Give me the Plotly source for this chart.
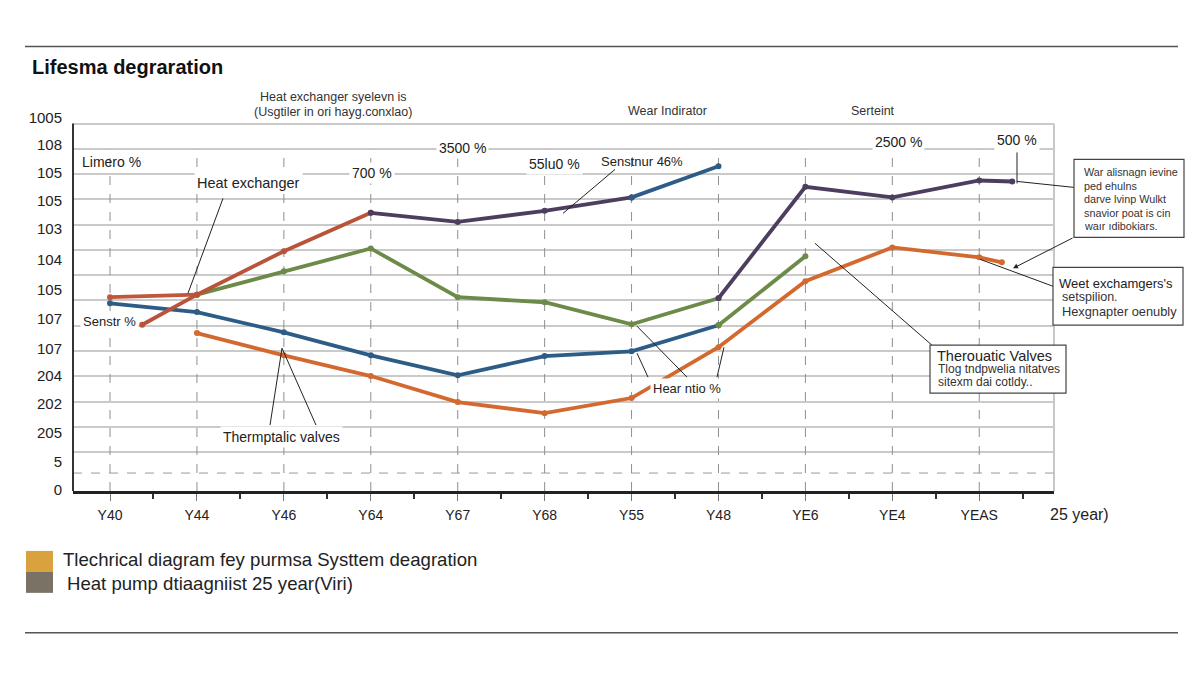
import plotly.graph_objects as go

# ---------------- data ----------------
categories = ["Y40", "Y44", "Y46", "Y64", "Y67", "Y68", "Y55", "Y48", "YE6", "YE4", "YEAS"]
cat_pos = list(range(len(categories)))

y_tick_vals = [14.24, 13.18, 12.07, 10.96, 9.82, 8.63, 7.44, 6.26, 5.11, 4.01, 2.90, 1.75, 0.61, -0.50]
y_tick_text = ["1005", "108", "105", "105", "103", "104", "105", "107", "107", "204", "202", "205", "5", "0"]

red_flat_x = [0, 1]
red_flat_y = [7.13, 7.23]
red_x = [0.37, 1, 2, 3]
red_y = [6.04, 7.23, 8.95, 10.47]
purple_a_x = [3, 4, 5, 6]
purple_a_y = [10.47, 10.11, 10.55, 11.08]
blue_tail_x = [6, 7]
blue_tail_y = [11.08, 12.31]
green_x = [1, 2, 3, 4, 5, 6, 7]
green_y = [7.23, 8.16, 9.06, 7.13, 6.93, 6.06, 7.09]
purple_b_x = [7, 8, 9, 10, 10.38]
purple_b_y = [7.09, 11.50, 11.08, 11.75, 11.71]
blue_x = [0, 1, 2, 3, 4, 5, 6, 7]
blue_y = [6.89, 6.54, 5.74, 4.83, 4.04, 4.80, 4.99, 6.02]
green_tail_x = [7, 8]
green_tail_y = [6.02, 8.75]
orange_x = [1, 2, 3, 4, 5, 6, 7, 8, 9, 10, 10.26]
orange_y = [5.71, 4.83, 4.01, 2.98, 2.54, 3.14, 5.15, 7.76, 9.10, 8.71, 8.51]

RED = "#b9533a"
PURPLE = "#4d3d5e"
BLUE = "#2d5c86"
GREEN = "#6c8a48"
ORANGE = "#d3692f"

FONT = "Liberation Sans, Arial, sans-serif"

# ---------------- layout geometry (pixels in the 1200x675 window) ----------------
OFF = 8  # default page body margin
W, H = 1200 - OFF, 675 - OFF
L, R, T, B = 73, 1054, 110.5, 491


def PX(x):
    return (x - L) / (R - L)


def PY(y):
    return (B - y) / (B - T)


fig = go.Figure()


def add_line(x, y, color, width=3.8):
    fig.add_trace(go.Scatter(
        x=x, y=y, mode="lines+markers",
        line=dict(color=color, width=width),
        marker=dict(size=6, color=color),
        showlegend=False, hoverinfo="skip"))


add_line(blue_x, blue_y, BLUE)
add_line(orange_x, orange_y, ORANGE)
add_line(green_x, green_y, GREEN)
add_line(green_tail_x, green_tail_y, GREEN)
add_line(red_flat_x, red_flat_y, "#c0573a")
add_line(red_x, red_y, RED)
add_line(purple_a_x, purple_a_y, PURPLE)
add_line(blue_tail_x, blue_tail_y, BLUE)
add_line(purple_b_x, purple_b_y, PURPLE)

shapes = []
for p in cat_pos:
    shapes.append(dict(type="line", xref="x", yref="y", x0=p, x1=p, y0=-0.54, y1=13,
                       line=dict(color="#8f8f8f", width=1, dash="dash"), layer="between"))
shapes.append(dict(type="line", xref="paper", yref="y", x0=0, x1=1, y0=0.17, y1=0.17,
                   line=dict(color="#9a9a9a", width=1, dash="dash"), layer="between"))
shapes.append(dict(type="line", xref="paper", yref="paper", x0=0, x1=0, y0=0, y1=PY(123),
                   line=dict(color="#333", width=2), layer="above"))
shapes.append(dict(type="line", xref="paper", yref="paper", x0=1, x1=1, y0=0, y1=PY(123),
                   line=dict(color="#b5b5b5", width=1.5), layer="between"))
for yy in (46, 633):
    shapes.append(dict(type="line", xref="paper", yref="paper", x0=PX(25), x1=PX(1178),
                       y0=PY(yy), y1=PY(yy), line=dict(color="#555", width=1.5)))


def seg(x0, y0, x1, y1, color="#222", width=1):
    shapes.append(dict(type="line", xref="paper", yref="paper", x0=PX(x0), y0=PY(y0),
                       x1=PX(x1), y1=PY(y1), line=dict(color=color, width=width), layer="above"))


def box(x0, y0, x1, y1):
    shapes.append(dict(type="rect", xref="paper", yref="paper", x0=PX(x0), y0=PY(y0),
                       x1=PX(x1), y1=PY(y1), line=dict(color="#444", width=1.2),
                       fillcolor="white", layer="above"))


seg(223, 198, 188, 293)
seg(615, 169, 563, 213)
seg(1017, 152, 1017, 183)
seg(1074, 187, 1017, 181)
seg(1053, 286, 980, 259)
seg(815, 243, 932, 345)
seg(637, 353, 648, 377)
seg(637, 326, 687, 377)
seg(724, 347, 717, 377)
seg(282, 348, 270, 425)
seg(282, 348, 316, 425)

box(1074, 159, 1184, 237)
box(1053, 267, 1183, 325)
box(930, 345, 1066, 393)

shapes.append(dict(type="rect", xref="paper", yref="paper", x0=PX(26), x1=PX(53),
                   y0=PY(551), y1=PY(572), line=dict(width=0), fillcolor="#d9a23e"))
shapes.append(dict(type="rect", xref="paper", yref="paper", x0=PX(26), x1=PX(53),
                   y0=PY(572), y1=PY(593), line=dict(width=0), fillcolor="#7a7265"))

annotations = []


def ann(text, x, y, size=13, color="#222", xanchor="center", bg=None):
    d = dict(text=text, x=PX(x), y=PY(y), xref="paper", yref="paper", showarrow=False,
             xanchor=xanchor, yanchor="middle", align="left",
             font=dict(family=FONT, size=size, color=color))
    if bg:
        d["bgcolor"] = bg
        d["borderpad"] = 2
    annotations.append(d)


ann("<b>Lifesma degraration</b>", 30, 66, size=20, color="#111", xanchor="left")
ann("Heat exchanger syelevn is", 333, 96, size=12.5, color="#333")
ann("(Usgtiler in ori hayg.conxlao)", 333, 112, size=12.5, color="#333")
ann("Wear Indirator", 667, 111, size=12.5, color="#333")
ann("Serteint", 873, 111, size=12.5, color="#333")
ann("Limero %", 111, 162, size=14)
ann("Heat exchanger", 248, 183, size=14.5, bg="white")
ann("Senstr %", 109, 321, size=13, bg="white")
ann("700 %", 372, 173, size=14, bg="white")
ann("3500 %", 462, 148, size=14, bg="white")
ann("55lu0 %", 554, 164, size=14, bg="white")
ann("Senstnur 46%", 642, 161, size=13)
ann("2500 %", 898, 142, size=14, bg="white")
ann("500 %", 1017, 140, size=14, bg="white")
ann("Hear ntio %", 687, 388, size=13, bg="white")
ann("Thermptalic valves", 281, 437, size=14, bg="white")
ann("25 year)", 1079, 515, size=16, color="#222")

for i, t in enumerate(["War alisnagn ievine", "ped ehulns", "darve lvinp Wulkt",
                       "snavior poat is cin", "waır ıdibokiars."]):
    ann(t, 1082, 172 + 13.5 * i, size=10.8, color="#333", xanchor="left")
ann("Weet exchamgers's", 1057, 283, size=13, color="#222", xanchor="left")
ann("setspilion.", 1060, 297, size=12.5, color="#333", xanchor="left")
ann("Hexgnapter oenubly", 1060, 311, size=12.8, color="#333", xanchor="left")
ann("Therouatic Valves", 935, 356, size=14.5, color="#222", xanchor="left")
ann("Tlog tndpwelia nitatves", 936, 369, size=12, color="#333", xanchor="left")
ann("sitexm dai cotldy..", 936, 382, size=12, color="#333", xanchor="left")

ann("Tlechrical diagram fey purmsa Systtem deagration", 61, 560, size=18.6, color="#222", xanchor="left")
ann("Heat pump dtiaagniist 25 year(Viri)", 65, 584, size=18.6, color="#222", xanchor="left")

annotations.append(dict(x=PX(1013), y=PY(268), xref="paper", yref="paper", text="",
                        showarrow=True, ax=1074 - 1013, ay=237 - 268, arrowhead=2,
                        arrowsize=1, arrowwidth=1, arrowcolor="#222"))

fig.update_layout(
    width=W, height=H,
    margin=dict(l=L - OFF, r=W - (R - OFF), t=T - OFF, b=H - (B - OFF), pad=0, autoexpand=False),
    paper_bgcolor="white", plot_bgcolor="white",
    font=dict(family=FONT, size=14, color="#222"),
    showlegend=False,
    shapes=shapes,
    annotations=annotations,
    xaxis=dict(range=[-0.426, 10.86], tickmode="array", tickvals=cat_pos, ticktext=categories,
               showgrid=False, zeroline=False, showline=True, linecolor="#222", linewidth=2.5,
               ticks="outside", ticklen=7, tickcolor="#777", tickwidth=1, ticklabelstandoff=2,
               tickfont=dict(size=14, color="#222"),
               minor=dict(ticks="outside", ticklen=5, tickcolor="#333", tickwidth=1.5,
                          tickmode="linear", tick0=0.5, dtick=1, showgrid=False),
               fixedrange=True),
    yaxis=dict(range=[-0.54, 14.5], tickmode="array", tickvals=y_tick_vals, ticktext=y_tick_text,
               showgrid=False, zeroline=False, showline=False,
               ticks="outside", ticklen=7, tickcolor="rgba(0,0,0,0)",
               tickfont=dict(size=15, color="#222"),
               minor=dict(tickmode="array", tickvals=list(range(1, 15)), showgrid=True,
                          gridcolor="#cacaca", gridwidth=1.5, ticks=""),
               fixedrange=True),
)

fig.write_html("out.html")
